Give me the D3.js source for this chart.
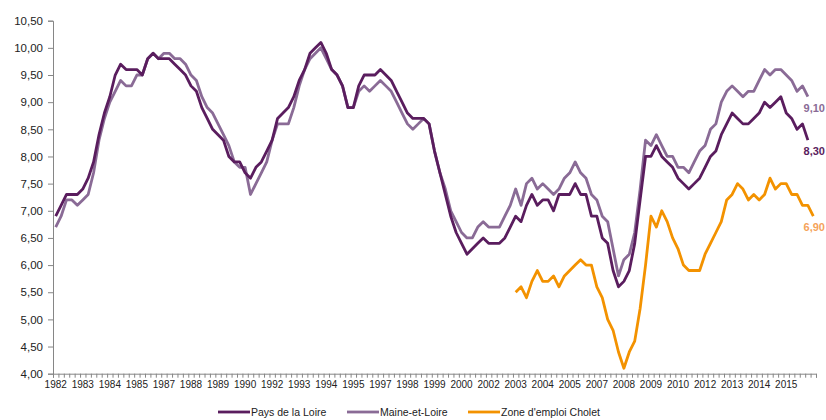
<!DOCTYPE html>
<html>
<head>
<meta charset="utf-8">
<script src="https://cdn.jsdelivr.net/npm/d3@7"></script>
<style>
  body { margin: 0; background: #fff; }
  #app { width: 826px; height: 420px; }
  text { font-family: Arial, "Liberation Sans", sans-serif; }
</style>
</head>
<body>
<div id="app"></div>
<script>
// quarterly categories 1982-T1 .. 2017-T1
const firstYear = 1982;
const quarters = [];
for (let i = 0; i < 141; i++) {
    quarters.push((firstYear + Math.floor(i / 4)) + "-T" + (i % 4 + 1));
}

const yearLabels = ["1982", "1983", "1984", "1985", "1987", "1988", "1989", "1990", "1992", "1993",
    "1994", "1995", "1997", "1998", "1999", "2000", "2002", "2003", "2004", "2005",
    "2007", "2008", "2009", "2010", "2012", "2013", "2014", "2015"];

const yTicks = [4, 4.5, 5, 5.5, 6, 6.5, 7, 7.5, 8, 8.5, 9, 9.5, 10, 10.5];

const paysLoire = [
    6.9, 7.1, 7.3, 7.3, 7.3, 7.4, 7.6, 7.9, 8.4, 8.8,
    9.1, 9.5, 9.7, 9.6, 9.6, 9.6, 9.5, 9.8, 9.9, 9.8,
    9.8, 9.8, 9.7, 9.6, 9.5, 9.3, 9.2, 8.9, 8.7, 8.5,
    8.4, 8.3, 8.0, 7.9, 7.9, 7.7, 7.6, 7.8, 7.9, 8.1,
    8.3, 8.7, 8.8, 8.9, 9.1, 9.4, 9.6, 9.9, 10.0, 10.1,
    9.9, 9.6, 9.5, 9.3, 8.9, 8.9, 9.3, 9.5, 9.5, 9.5,
    9.6, 9.5, 9.4, 9.2, 9.0, 8.8, 8.7, 8.7, 8.7, 8.6,
    8.1, 7.7, 7.3, 6.9, 6.6, 6.4, 6.2, 6.3, 6.4, 6.5,
    6.4, 6.4, 6.4, 6.5, 6.7, 6.9, 6.8, 7.1, 7.3, 7.1,
    7.2, 7.2, 7.0, 7.3, 7.3, 7.3, 7.5, 7.3, 7.3, 6.9,
    6.9, 6.5, 6.4, 5.9, 5.6, 5.7, 5.9, 6.4, 7.2, 8.0,
    8.0, 8.2, 8.0, 7.9, 7.8, 7.6, 7.5, 7.4, 7.5, 7.6,
    7.8, 8.0, 8.1, 8.4, 8.6, 8.8, 8.7, 8.6, 8.6, 8.7,
    8.8, 9.0, 8.9, 9.0, 9.1, 8.8, 8.7, 8.5, 8.6, 8.3
];

const maineLoire = [
    6.7, 6.9, 7.2, 7.2, 7.1, 7.2, 7.3, 7.7, 8.3, 8.7,
    9.0, 9.2, 9.4, 9.3, 9.3, 9.5, 9.5, 9.8, 9.9, 9.8,
    9.9, 9.9, 9.8, 9.8, 9.7, 9.5, 9.4, 9.1, 8.9, 8.8,
    8.6, 8.4, 8.2, 7.9, 7.8, 7.8, 7.3, 7.5, 7.7, 7.9,
    8.3, 8.6, 8.6, 8.6, 8.9, 9.3, 9.6, 9.8, 9.9, 10.0,
    9.8, 9.6, 9.5, 9.3, 8.9, 8.9, 9.2, 9.3, 9.2, 9.3,
    9.4, 9.3, 9.2, 9.0, 8.8, 8.6, 8.5, 8.6, 8.7, 8.6,
    8.1, 7.7, 7.4, 7.0, 6.8, 6.6, 6.5, 6.5, 6.7, 6.8,
    6.7, 6.7, 6.7, 6.9, 7.1, 7.4, 7.1, 7.5, 7.6, 7.4,
    7.5, 7.4, 7.3, 7.4, 7.6, 7.7, 7.9, 7.7, 7.6, 7.3,
    7.2, 6.9, 6.8, 6.3, 5.8, 6.1, 6.2, 6.6, 7.4, 8.3,
    8.2, 8.4, 8.2, 8.0, 8.0, 7.8, 7.8, 7.7, 7.9, 8.1,
    8.2, 8.5, 8.6, 9.0, 9.2, 9.3, 9.2, 9.1, 9.2, 9.2,
    9.4, 9.6, 9.5, 9.6, 9.6, 9.5, 9.4, 9.2, 9.3, 9.1
];

// Zone d'emploi Cholet starts 2003-T2
const choletStart = "2003-T2";
const cholet = [
    5.5, 5.6, 5.4, 5.7, 5.9, 5.7, 5.7, 5.8, 5.6, 5.8,
    5.9, 6.0, 6.1, 6.0, 6.0, 5.6, 5.4, 5.0, 4.8, 4.4,
    4.1, 4.4, 4.6, 5.2, 6.0, 6.9, 6.7, 7.0, 6.8, 6.5,
    6.3, 6.0, 5.9, 5.9, 5.9, 6.2, 6.4, 6.6, 6.8, 7.2,
    7.3, 7.5, 7.4, 7.2, 7.3, 7.2, 7.3, 7.6, 7.4, 7.5,
    7.5, 7.3, 7.3, 7.1, 7.1, 6.9
];

const seriesNames = ["Pays de la Loire", "Maine-et-Loire", "Zone d'emploi Cholet"];
const seriesColors = ["#5a1d5e", "#8a6b96", "#f39200"];
const endLabelColors = ["#5a1d5e", "#8a6b96", "#f5a35a"];

const chartW = 826, chartH = 420;
const plotL = 53, plotR = 816, plotT = 20.7, plotB = 373.7;

function fmt(v) {
    return v.toFixed(2).replace(".", ",");
}

function runApp() {
    const svg = d3.select("#app").append("svg")
        .attr("width", chartW)
        .attr("height", chartH);

    const x = d3.scaleBand().domain(quarters).range([plotL, plotR]).padding(0);
    const xi = d3.scaleLinear().domain([0, quarters.length]).range([plotL, plotR]);
    const y = d3.scaleLinear().domain([4, 10.5]).range([plotB, plotT]);

    //Y AXIS
    const yAxis = svg.append("g")
        .attr("transform", "translate(" + plotL + ",0)")
        .call(d3.axisLeft(y).tickValues(yTicks).tickFormat(fmt).tickSize(5).tickPadding(5));
    yAxis.select(".domain").attr("stroke", "#868686");
    yAxis.selectAll(".tick line").attr("stroke", "#868686");
    yAxis.selectAll("text").attr("font-size", "11.5px").attr("fill", "#222");

    //X AXIS ticks at each quarter boundary
    const xTicks = svg.append("g")
        .attr("transform", "translate(0," + plotB + ")")
        .call(d3.axisBottom(xi).tickValues(d3.range(0, quarters.length + 1)).tickSize(4).tickFormat(""));
    xTicks.select(".domain").attr("stroke", "#868686");
    xTicks.selectAll(".tick line").attr("stroke", "#868686");

    const labelled = quarters.filter(function (q, i) { return i % 5 === 0; });
    const xLabels = svg.append("g")
        .attr("transform", "translate(0," + plotB + ")")
        .call(d3.axisBottom(x).tickValues(labelled).tickSize(0).tickPadding(7)
            .tickFormat(function (q, i) { return yearLabels[i]; }));
    xLabels.select(".domain").remove();
    xLabels.selectAll("text").attr("font-size", "10px").attr("fill", "#222");

    //LINES
    const cx = function (q) { return x(q) + x.bandwidth() / 2; };
    const startIdx = quarters.indexOf(choletStart);
    const data = [
        paysLoire.map(function (v, i) { return [quarters[i], v]; }),
        maineLoire.map(function (v, i) { return [quarters[i], v]; }),
        cholet.map(function (v, i) { return [quarters[startIdx + i], v]; })
    ];
    const line = d3.line()
        .x(function (d) { return cx(d[0]); })
        .y(function (d) { return y(d[1]); });

    [1, 0, 2].forEach(function (k) {
        svg.append("path")
            .datum(data[k])
            .attr("d", line)
            .attr("fill", "none")
            .attr("stroke", seriesColors[k])
            .attr("stroke-width", 2.8)
            .attr("stroke-linejoin", "round");
    });

    //END LABELS - kept inside the frame so they are not cut
    data.forEach(function (s, k) {
        const last = s[s.length - 1];
        svg.append("text")
            .attr("x", chartW - 1)
            .attr("y", y(last[1]) + 15)
            .attr("text-anchor", "end")
            .attr("font-size", "11px")
            .attr("font-weight", "bold")
            .attr("fill", endLabelColors[k])
            .text(fmt(last[1]));
    });

    //LEGEND
    const legendX = [218, 347, 468];
    const legendY = 412;
    seriesNames.forEach(function (name, k) {
        svg.append("line")
            .attr("x1", legendX[k])
            .attr("x2", legendX[k] + 32)
            .attr("y1", legendY)
            .attr("y2", legendY)
            .attr("stroke", seriesColors[k])
            .attr("stroke-width", 2.8);
        svg.append("text")
            .attr("x", legendX[k] + 33)
            .attr("y", legendY + 4)
            .attr("font-size", "10.5px")
            .attr("fill", "#222")
            .text(name);
    });
}

runApp();
</script>
</body>
</html>
